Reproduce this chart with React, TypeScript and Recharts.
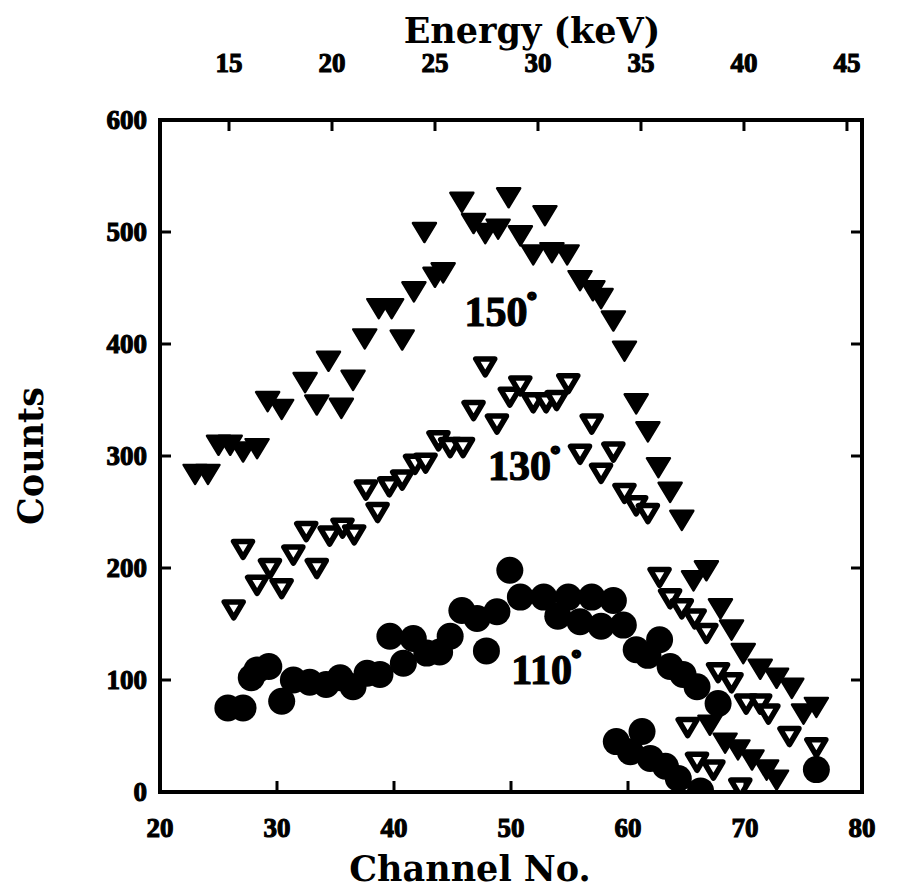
import React from 'react';
import { ScatterChart, Scatter, XAxis, YAxis, ReferenceDot } from 'recharts';

// ---- tick labels ----
const channelTicks = [20, 30, 40, 50, 60, 70, 80];
const energyTicks = [15, 20, 25, 30, 35, 40, 45];
const countTicks = [0, 100, 200, 300, 400, 500, 600];

// ---- series: [channel, counts] ----
const series150: [number, number][] = [
  [23.0, 284], [24.1, 284],
  [25.0, 310], [26.0, 310], [27.1, 304], [28.3, 307],
  [29.2, 349], [30.4, 342], [33.4, 346], [35.5, 343],
  [32.4, 366], [36.5, 368], [34.4, 385],
  [37.5, 405], [40.7, 404],
  [38.7, 432], [39.8, 432],
  [41.7, 447],
  [43.5, 460], [44.2, 464],
  [42.6, 500],
  [45.8, 527], [49.8, 531], [52.9, 515],
  [46.8, 508], [47.8, 499], [48.9, 503], [50.8, 497],
  [51.9, 480], [53.5, 482], [54.8, 480],
  [55.9, 457], [57.0, 448], [57.7, 441],
  [58.75, 421], [59.7, 394], [60.7, 347], [61.7, 322], [62.6, 290], [63.6, 268], [64.6, 243],
  [65.6, 189], [66.7, 198],
  [67.9, 164], [68.85, 145], [69.85, 124], [71.3, 110], [72.7, 102], [74.0, 93],
  [75.0, 70], [76.1, 76],
  [67.0, 60], [68.3, 44], [69.4, 38], [70.6, 29], [71.85, 20], [72.7, 11],
];

const series130: [number, number][] = [
  [26.3, 163], [27.1, 217], [28.3, 185], [29.4, 200], [30.4, 182], [31.4, 212], [33.4, 200],
  [32.5, 233], [34.5, 229], [35.6, 236], [36.6, 230],
  [38.6, 250], [37.6, 270], [39.6, 273], [40.7, 279],
  [41.8, 293], [42.7, 294],
  [43.8, 314], [44.8, 308], [45.9, 308],
  [46.8, 341], [47.8, 380], [48.8, 329],
  [49.9, 353], [50.8, 363], [51.9, 348], [53.0, 348], [53.9, 350], [54.9, 365],
  [55.9, 302], [56.9, 329], [57.7, 285], [58.75, 304],
  [59.7, 267], [60.7, 256], [61.7, 249],
  [62.7, 192], [63.6, 173], [64.6, 164], [65.7, 155], [66.7, 142],
  [67.7, 107], [68.85, 98],
  [70.1, 79], [71.3, 79], [72.0, 70],
  [65.1, 58], [65.9, 27], [67.3, 20], [69.6, 4], [73.8, 50], [76.1, 40],
];

const series110: [number, number][] = [
  [25.8, 75], [27.1, 75],
  [27.8, 102], [28.3, 109], [29.3, 112],
  [30.4, 81],
  [31.4, 100], [32.8, 98], [34.2, 96], [35.4, 102], [36.5, 94], [37.7, 106], [38.8, 105],
  [40.8, 115], [39.65, 139], [41.65, 137], [42.8, 124], [43.9, 125], [44.8, 139],
  [45.8, 162], [47.1, 155], [48.8, 161], [47.9, 126],
  [49.9, 198],
  [50.8, 174], [52.8, 174], [54.9, 174], [56.9, 174], [58.75, 171],
  [54.0, 157], [55.9, 152], [57.7, 148], [59.6, 149],
  [60.7, 127], [61.7, 122], [62.7, 136], [63.6, 112], [64.7, 105], [65.9, 94], [67.7, 79],
  [59.0, 45], [61.2, 54], [60.2, 36], [61.9, 30], [63.2, 23], [64.3, 12], [66.2, 1],
  [76.1, 20],
];

const seriesLabels = [
  { txt: '150', ch: 49.1, counts: 429 },
  { txt: '130', ch: 51.1, counts: 291 },
  { txt: '110', ch: 53.0, counts: 109 },
];

const toPts = (arr: [number, number][]) => arr.map(([x, y]) => ({ x, y }));

const FONT_TICK = 'Liberation Serif, serif';
const FONT_TITLE = 'DejaVu Serif, serif';

const FilledTri = (p: any) => {
  const { cx, cy } = p;
  if (cx == null || cy == null) return null;
  return (
    <path
      d={`M${cx - 11.5},${cy - 9} L${cx + 11.5},${cy - 9} L${cx},${cy + 10} Z`}
      fill="#000"
      stroke="#000"
      strokeWidth={2.5}
      strokeLinejoin="round"
    />
  );
};

const OpenTri = (p: any) => {
  const { cx, cy } = p;
  if (cx == null || cy == null) return null;
  return (
    <path
      d={`M${cx - 9.5},${cy - 7.5} L${cx + 9.5},${cy - 7.5} L${cx},${cy + 8.5} Z`}
      fill="#fff"
      stroke="#000"
      strokeWidth={5.5}
      strokeLinejoin="round"
    />
  );
};

const Circ = (p: any) => {
  const { cx, cy } = p;
  if (cx == null || cy == null) return null;
  return <circle cx={cx} cy={cy} r={13.5} fill="#000" />;
};

const tickText = {
  fontFamily: FONT_TICK,
  fontWeight: 'bold' as const,
  fontSize: 27,
  fill: '#000',
  stroke: '#000',
  strokeWidth: 1.1,
};

const BottomTick = (p: any) => {
  const { x, y, payload } = p;
  return (
    <g>
      <line x1={x} x2={x} y1={y} y2={y - 11} stroke="#000" strokeWidth={3} />
      <text x={x} y={y + 36} textAnchor="middle" dominantBaseline="central" {...tickText}>
        {payload.value}
      </text>
    </g>
  );
};

const TopTick = (p: any) => {
  const { x, y, payload } = p;
  return (
    <g>
      <line x1={x} x2={x} y1={y} y2={y + 11} stroke="#000" strokeWidth={3} />
      <text x={x} y={y - 57} textAnchor="middle" dominantBaseline="central" {...tickText}>
        {payload.value}
      </text>
    </g>
  );
};

const LeftTick = (p: any) => {
  const { x, y, payload } = p;
  return (
    <g>
      <line x1={x} x2={x + 11} y1={y} y2={y} stroke="#000" strokeWidth={3} />
      <text x={x - 13} y={y} textAnchor="end" dominantBaseline="central" {...tickText}>
        {payload.value}
      </text>
    </g>
  );
};

const RightTick = (p: any) => {
  const { x, y } = p;
  return <line x1={x} x2={x - 11} y1={y} y2={y} stroke="#000" strokeWidth={3} />;
};

const titleStyle = {
  fontFamily: FONT_TITLE,
  fontWeight: 'bold' as const,
  fontSize: 35,
  fill: '#000',
};

const BottomTitle = (p: any) => {
  const vb = p.viewBox;
  return (
    <text x={vb.x + vb.width / 2 - 41} y={vb.y + 76} textAnchor="middle" dominantBaseline="central" {...titleStyle}>
      Channel No.
    </text>
  );
};

const TopTitle = (p: any) => {
  const vb = p.viewBox;
  return (
    <text x={vb.x + vb.width / 2 + 21} y={vb.y + 22} textAnchor="middle" dominantBaseline="central" {...titleStyle}>
      Energy (keV)
    </text>
  );
};

const LeftTitle = (p: any) => {
  const vb = p.viewBox;
  const cx = vb.x + 22;
  const cy = vb.y + vb.height / 2;
  return (
    <text
      x={cx}
      y={cy}
      transform={`rotate(-90 ${cx} ${cy})`}
      textAnchor="middle"
      dominantBaseline="central"
      {...titleStyle}
    >
      Counts
    </text>
  );
};

const SeriesLabel = (p: any) => {
  const vb = p.viewBox;
  const x = vb.x + (vb.width || 0) / 2;
  const y = vb.y + (vb.height || 0) / 2;
  return (
    <text
      x={x}
      y={y + 14}
      textAnchor="middle"
      fontFamily={FONT_TICK}
      fontWeight="bold"
      fontSize={42}
      fill="#000"
      stroke="#000"
      strokeWidth={1.2}
    >
      {p.txt}
      <tspan dy={-19} fontSize={22} strokeWidth={3}>
        °
      </tspan>
    </text>
  );
};

const axisLine = { stroke: '#000', strokeWidth: 4, strokeLinecap: 'square' as const };

export default function App() {
  return (
    <ScatterChart width={882} height={880} margin={{ top: 0, right: 0, bottom: 0, left: 0 }}>
      <XAxis
        xAxisId="ch"
        dataKey="x"
        type="number"
        orientation="bottom"
        domain={[20, 80]}
        ticks={channelTicks}
        interval={0}
        height={96}
        tickSize={0}
        tickMargin={0}
        tickLine={false}
        axisLine={axisLine}
        tick={<BottomTick />}
        allowDataOverflow
        label={<BottomTitle />}
      />
      <XAxis
        xAxisId="energy"
        dataKey="x"
        type="number"
        orientation="top"
        domain={[11.65, 45.73]}
        ticks={energyTicks}
        interval={0}
        height={112}
        tickSize={0}
        tickMargin={0}
        tickLine={false}
        axisLine={axisLine}
        tick={<TopTick />}
        allowDataOverflow
        label={<TopTitle />}
      />
      <YAxis
        yAxisId="counts"
        dataKey="y"
        type="number"
        orientation="left"
        domain={[0, 600]}
        ticks={countTicks}
        interval={0}
        width={152}
        tickSize={0}
        tickMargin={0}
        tickLine={false}
        axisLine={axisLine}
        tick={<LeftTick />}
        allowDataOverflow
        label={<LeftTitle />}
      />
      <YAxis
        yAxisId="right"
        dataKey="y"
        type="number"
        orientation="right"
        domain={[0, 600]}
        ticks={countTicks}
        interval={0}
        width={28}
        tickSize={0}
        tickMargin={0}
        tickLine={false}
        axisLine={axisLine}
        tick={<RightTick />}
        allowDataOverflow
      />
      <Scatter
        name="empty"
        data={[]}
        xAxisId="energy"
        yAxisId="right"
        isAnimationActive={false}
      />
      <Scatter
        name="110°"
        data={toPts(series110)}
        xAxisId="ch"
        yAxisId="counts"
        shape={Circ}
        isAnimationActive={false}
      />
      <Scatter
        name="130°"
        data={toPts(series130)}
        xAxisId="ch"
        yAxisId="counts"
        shape={OpenTri}
        isAnimationActive={false}
      />
      <Scatter
        name="150°"
        data={toPts(series150)}
        xAxisId="ch"
        yAxisId="counts"
        shape={FilledTri}
        isAnimationActive={false}
      />
      {seriesLabels.map((l) => (
        <ReferenceDot
          key={l.txt}
          x={l.ch}
          y={l.counts}
          xAxisId="ch"
          yAxisId="counts"
          r={1}
          fill="none"
          stroke="none"
          ifOverflow="visible"
          label={<SeriesLabel txt={l.txt} />}
        />
      ))}
    </ScatterChart>
  );
}
